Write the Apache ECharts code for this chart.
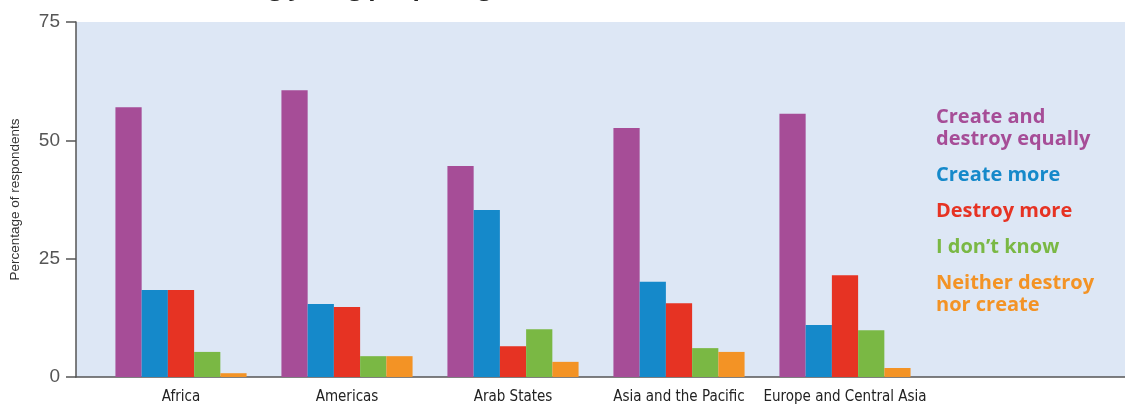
<!DOCTYPE html>
<html><head><meta charset="utf-8">
<script src="https://cdn.jsdelivr.net/npm/echarts@6/dist/echarts.min.js"></script>
<style>html,body{margin:0;padding:0;background:#fff}#c{width:1125px;height:406px}</style>
</head><body><div id="c"></div>
<script>
const categories = ['Africa', 'Americas', 'Arab States', 'Asia and the Pacific', 'Europe and Central Asia'];
const createDestroyEqually = [57.0, 60.6, 44.6, 52.6, 55.6];
const createMore = [18.4, 15.4, 35.3, 20.1, 11.0];
const destroyMore = [18.4, 14.8, 6.5, 15.6, 21.5];
const dontKnow = [5.3, 4.4, 10.1, 6.1, 9.9];
const neither = [0.8, 4.4, 3.2, 5.3, 1.9];
const yTicks = [0, 25, 50, 75];
const seriesNames = ['Create and\ndestroy equally', 'Create more', 'Destroy more', 'I don\u2019t know', 'Neither destroy\nnor create'];
const colors = ['#A64D97', '#1589CA', '#E63323', '#7AB844', '#F39325'];
const seriesData = [createDestroyEqually, createMore, destroyMore, dontKnow, neither];

const chart = echarts.init(document.getElementById('c'));
chart.setOption({
  animation: false,
  title: {
    text: 'among young people (aged 15\u201329), %',
    left: 195, top: -29,
    textStyle: {fontFamily: 'Open Sans', fontWeight: 'bold', fontSize: 24, color: '#222'}
  },
  grid: [
    {left: 76, right: 0, top: 22, bottom: 29, show: true, backgroundColor: '#DDE7F5', borderWidth: 0, outerBoundsMode: 'none', containLabel: false},
    {left: 98, width: 830, top: 22, bottom: 29, outerBoundsMode: 'none', containLabel: false}
  ],
  legend: {
    orient: 'vertical', left: 926, top: 101, itemGap: 14, icon: 'none', itemWidth: 0, itemHeight: 0,
    selectedMode: false,
    textStyle: {fontFamily: 'Open Sans', fontWeight: 'bold', fontSize: 20, lineHeight: 22, padding: [0,0,0,0]},
    data: seriesNames.map((n, i) => ({name: n, textStyle: {color: colors[i]}}))
  },
  xAxis: [
    {gridIndex: 0, type: 'value', min: 0, max: 1, axisLine: {show: true, lineStyle: {color: '#555', width: 1.5}},
     axisTick: {show: false}, axisLabel: {show: false}, splitLine: {show: false}},
    {gridIndex: 1, type: 'category', data: categories, axisLine: {show: false}, axisTick: {show: false},
     axisLabel: {interval: 0, fontFamily: 'Liberation Sans Narrow, DejaVu Sans Condensed, sans-serif', fontSize: 15, color: '#222', margin: 13}}
  ],
  yAxis: [
    {gridIndex: 0, type: 'value', min: yTicks[0], max: yTicks[yTicks.length - 1], interval: 25,
     name: 'Percentage of respondents', nameLocation: 'middle', nameGap: 54, nameRotate: 90,
     nameTextStyle: {fontFamily: 'Liberation Sans, sans-serif', fontSize: 13.5, color: '#333'},
     axisLine: {show: true, lineStyle: {color: '#555', width: 1.5}},
     axisTick: {show: true, inside: false, length: 10, lineStyle: {color: '#555', width: 1.5}},
     axisLabel: {fontFamily: 'Liberation Sans, sans-serif', fontSize: 19, color: '#555', margin: 16},
     splitLine: {show: false}},
    {gridIndex: 1, type: 'value', min: 0, max: 75, show: false, splitLine: {show: false}}
  ],
  series: seriesData.map((d, i) => ({
    name: seriesNames[i], type: 'bar', xAxisIndex: 1, yAxisIndex: 1, data: d,
    barGap: '0%', barCategoryGap: '21%', itemStyle: {color: colors[i]}
  }))
});
</script></body></html>
